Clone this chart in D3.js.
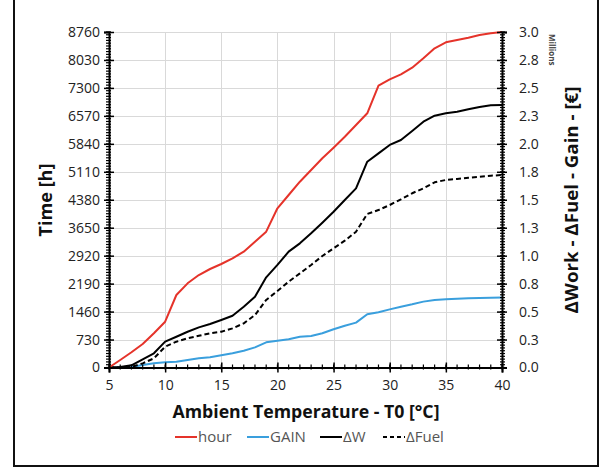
<!DOCTYPE html>
<html><head><meta charset="utf-8">
<script src="https://cdn.jsdelivr.net/npm/d3@7"></script>
<style>
html,body{margin:0;padding:0;background:#fff;}
text{font-family:"Open Sans",sans-serif;}
</style></head>
<body>
<svg id="c" width="604" height="470"></svg>
<script>
const temps = d3.range(5, 41, 1);
const hourVals = [0,196,397,614,893,1196,1893,2198,2415,2572,2702,2851,3024,3285,3546,4157,4504,4851,5157,5462,5739,6026,6332,6637,7358,7525,7655,7828,8073,8334,8491,8551,8611,8682,8726,8760];
const gainVals = [0,0,0.005,0.022,0.037,0.046,0.052,0.067,0.082,0.091,0.109,0.127,0.15,0.18,0.225,0.24,0.252,0.275,0.282,0.306,0.342,0.374,0.401,0.476,0.494,0.52,0.544,0.565,0.589,0.604,0.61,0.615,0.619,0.621,0.624,0.626];
const dWVals = [0,0.005,0.02,0.073,0.127,0.231,0.275,0.32,0.359,0.389,0.425,0.463,0.544,0.633,0.806,0.917,1.036,1.11,1.2,1.295,1.393,1.498,1.602,1.84,1.915,1.99,2.034,2.115,2.198,2.252,2.273,2.287,2.309,2.329,2.345,2.348];
const dFuelVals = [0,0,0.005,0.037,0.082,0.186,0.231,0.261,0.284,0.306,0.32,0.35,0.395,0.469,0.604,0.684,0.767,0.842,0.917,0.997,1.066,1.134,1.214,1.373,1.408,1.453,1.504,1.558,1.602,1.656,1.677,1.686,1.697,1.706,1.715,1.721];
const xTicks = [5,10,15,20,25,30,35,40];
const leftTicks = [0,730,1460,2190,2920,3650,4380,5110,5840,6570,7300,8030,8760];
const rightTicks = d3.range(0, 3.001, 0.25);
const rightTickLabels = ["0.0","0.3","0.5","0.8","1.0","1.3","1.5","1.8","2.0","2.3","2.5","2.8","3.0"];
const legendNames = ["hour","GAIN","ΔW","ΔFuel"];

const svg = d3.select("#c");
const L = 109, R = 502, T = 32, B = 367.5;
const x = d3.scaleLinear().domain([5,40]).range([L,R]);
const yL = d3.scaleLinear().domain([0,8760]).range([B,T]);
const yR = d3.scaleLinear().domain([0,3]).range([B,T]);

// frame
svg.append("rect").attr("x",14).attr("y",-2).attr("width",584).attr("height",468)
  .attr("fill","none").attr("stroke","#111").attr("stroke-width",2);

// grid
const grid = svg.append("g").attr("stroke","#d9d9d9").attr("stroke-width",1);
leftTicks.forEach(t=>grid.append("line").attr("x1",L).attr("x2",R).attr("y1",Math.round(yL(t))+0.5).attr("y2",Math.round(yL(t))+0.5));
xTicks.forEach(t=>grid.append("line").attr("y1",T).attr("y2",B).attr("x1",Math.round(x(t))+0.5).attr("x2",Math.round(x(t))+0.5));

// series
const series = [
  {vals:hourVals, y:yL, color:"#e5332a", dash:null},
  {vals:gainVals, y:yR, color:"#3a9fdd", dash:null},
  {vals:dWVals, y:yR, color:"#000", dash:null},
  {vals:dFuelVals, y:yR, color:"#000", dash:"5,3"}
];
const drawOrder = [1,3,2,0];
drawOrder.forEach(i=>{
  const s = series[i];
  const line = d3.line().x((d,j)=>x(temps[j])).y(d=>s.y(d)).curve(d3.curveLinear);
  svg.append("path").datum(s.vals).attr("d",line).attr("fill","none")
    .attr("stroke",s.color).attr("stroke-width",2).attr("stroke-dasharray",s.dash)
    .attr("stroke-linejoin","round");
});

// axes
function styleAxis(g){
  g.select(".domain").attr("stroke","#000").attr("stroke-width",2);
  g.selectAll(".tick line").attr("stroke","#000").attr("stroke-width",1.5);
  g.selectAll(".tick text").attr("fill","#222").style("font-size","14px");
}
// minor ticks
const minor = svg.append("g").attr("stroke","#000").attr("stroke-width",1.2);
d3.range(0,8760.1,73).forEach(v=>minor.append("line").attr("x1",L-3).attr("x2",L+2).attr("y1",yL(v)).attr("y2",yL(v)));
d3.range(0,3.0001,0.025).forEach(v=>minor.append("line").attr("x1",R-2).attr("x2",R+3).attr("y1",yR(v)).attr("y2",yR(v)));
d3.range(5,40.01,1).forEach(v=>minor.append("line").attr("y1",B-3).attr("y2",B+2).attr("x1",x(v)).attr("x2",x(v)));

const gx = svg.append("g").attr("transform",`translate(0,${B})`)
  .call(d3.axisBottom(x).tickValues(xTicks).tickSize(5).tickPadding(8).tickFormat(d3.format("d")));
gx.selectAll(".tick line").attr("y1",-5);
styleAxis(gx);

const gl = svg.append("g").attr("transform",`translate(${L},0)`)
  .call(d3.axisLeft(yL).tickValues(leftTicks).tickSize(5).tickPadding(4).tickFormat(d3.format("d")));
gl.selectAll(".tick line").attr("x1",5);
styleAxis(gl);

const gr = svg.append("g").attr("transform",`translate(${R},0)`)
  .call(d3.axisRight(yR).tickValues(rightTicks).tickSize(5).tickPadding(12).tickFormat((d,i)=>rightTickLabels[i]));
gr.selectAll(".tick line").attr("x1",-5);
styleAxis(gr);

// titles
svg.append("text").attr("transform","translate(52,200) rotate(-90)").attr("text-anchor","middle")
  .attr("font-weight","bold").style("font-size","18px").attr("fill","#111")
  .attr("textLength",73).attr("lengthAdjust","spacingAndGlyphs").text("Time [h]");
svg.append("text").attr("transform","translate(578,200) rotate(-90)").attr("text-anchor","middle")
  .attr("font-weight","bold").style("font-size","18px").attr("fill","#111")
  .attr("textLength",227).attr("lengthAdjust","spacingAndGlyphs").text("ΔWork - ΔFuel - Gain - [€]");
svg.append("text").attr("x",306).attr("y",418).attr("text-anchor","middle")
  .attr("font-weight","bold").style("font-size","18px").attr("fill","#111")
  .attr("textLength",267).attr("lengthAdjust","spacingAndGlyphs").text("Ambient Temperature - T0 [°C]");
svg.append("text").attr("transform","translate(549,34) rotate(90)").attr("text-anchor","start")
  .style("font-size","8px").attr("font-weight","bold").attr("fill","#444").text("Millions");

// legend
const legX = [175,247,320,383];
const lg = svg.append("g");
series.forEach((s,i)=>{
  lg.append("line").attr("x1",legX[i]).attr("x2",legX[i]+22).attr("y1",437).attr("y2",437)
    .attr("stroke",s.color).attr("stroke-width",2).attr("stroke-dasharray",s.dash?"4,3":null);
  lg.append("text").attr("x",legX[i]+23).attr("y",442).style("font-size","15px").attr("fill","#555").text(legendNames[i]);
});
</script>
</body></html>
